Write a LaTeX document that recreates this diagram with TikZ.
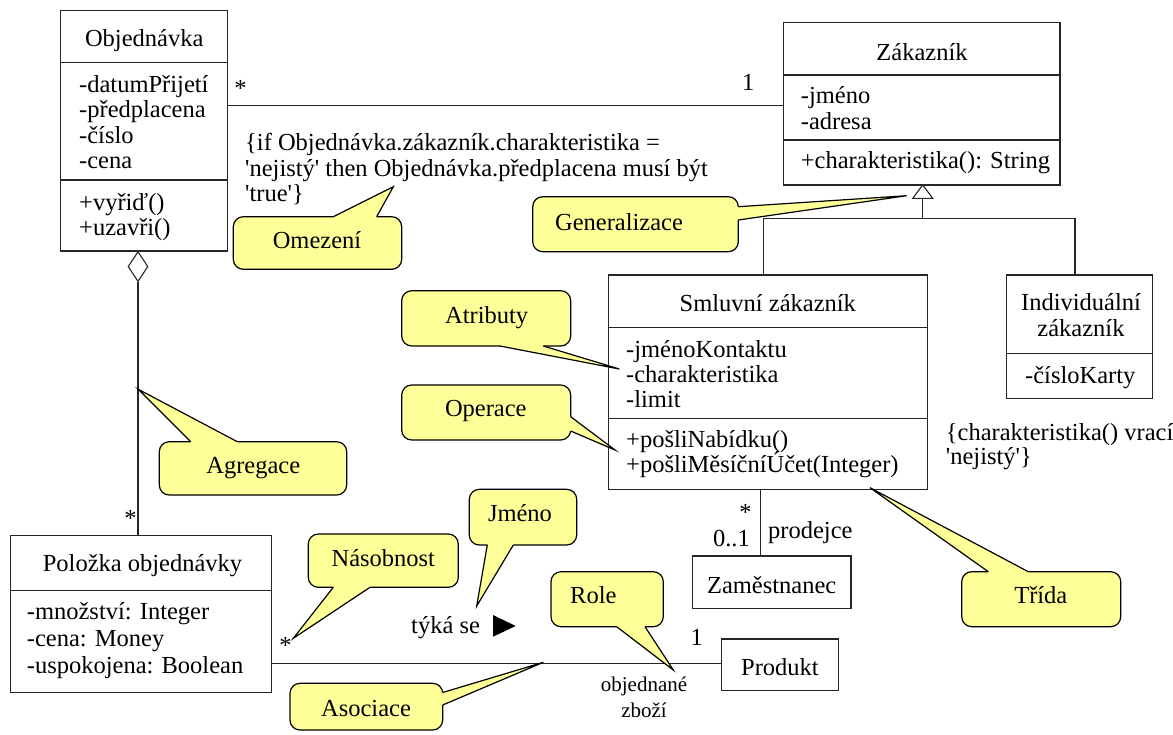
\documentclass[tikz,border=0pt]{standalone}
\usepackage{fontspec}
\setmainfont{Liberation Serif}
\usetikzlibrary{calc,shapes.geometric}
\definecolor{cfill}{HTML}{FFFF99}
\newcommand\sq{\textquotesingle}
\tikzset{
 every node/.style={font=\fontsize{24.5}{25.5}\selectfont, inner sep=0pt},
 cls/.style={draw=black!85, line width=1.1pt, fill=white, inner sep=0pt},
 ln/.style={draw=black!85, line width=1.1pt},
 txt/.style={anchor=base west},
 ctxt/.style={anchor=base},
 star/.style={anchor=base},
 small/.style={font=\fontsize{21}{22}\selectfont, anchor=base},
 cbox/.style={draw=black, line width=1.2pt, fill=cfill, rounded corners=10pt},
 cline/.style={draw=black, line width=1.2pt},
}
\newcommand\mkcallout[6]{%
 \path[cbox] #1 rectangle #2;
 \fill[cfill] #3 -- #4 -- #5 -- ($#5+#6$) -- ($#3+#6$) -- cycle;
 \draw[cline] #3 -- #4 -- #5;
}
\begin{document}
\begin{tikzpicture}[x=1pt,y=-1pt]
\useasboundingbox (0,0) rectangle (1173,734);
\fill[white] (0,0) rectangle (1173,734);

% ---------- connectors first (behind boxes) ----------
\coordinate (a1) at (0,105.7);
\coordinate (pp) at (0,663.3);
\coordinate (sz) at (760.7,0);
\coordinate (gl) at (763.3,218.3);
\coordinate (gr) at (1075,218.3);
\coordinate (gtop) at (922.7,218.3);

% ---------- classes ----------
% Objednavka
\node[cls, minimum width=167pt, minimum height=240.3pt] (obj) at (144.2,130.85) {};
\draw[ln] (60.7,62.3) -- (227.7,62.3);
\draw[ln] (60.7,180) -- (227.7,180);
\node[ctxt] (objT) at (144.2,46.5) {Objednávka};
\node[txt] (objA1) at (79,92) {-datumPřijetí};
\node[txt] (objA2) at (79,117.5) {-předplacena};
\node[txt] (objA3) at (79,143) {-číslo};
\node[txt] (objA4) at (79,168.3) {-cena};
\node[txt] (objO1) at (79,210) {+vyřiď()};
\node[txt] (objO2) at (79,235.5) {+uzavři()};

% Zakaznik
\node[cls, minimum width=276.7pt, minimum height=162.3pt] (zak) at (921.65,103.85) {};
\draw[ln] (783.3,75) -- (1060,75);
\draw[ln] (783.3,140) -- (1060,140);
\node[ctxt] (zakT) at (922,60) {Zákazník};
\node[txt] (zakA1) at (800.7,103.5) {-jméno};
\node[txt] (zakA2) at (800.7,129.3) {-adresa};
\node[txt] (zakO1) at (800.7,168) {+charakteristika(): String};

% Smluvni zakaznik
\node[cls, minimum width=319pt, minimum height=214.3pt] (smluv) at (767.8,382.15) {};
\draw[ln] (608.3,327.7) -- (927.3,327.7);
\draw[ln] (608.3,418.3) -- (927.3,418.3);
\node[ctxt] (smluvT) at (767.8,311.7) {Smluvní zákazník};
\node[txt] (smA1) at (626,357) {-jménoKontaktu};
\node[txt] (smA2) at (626,382) {-charakteristika};
\node[txt] (smA3) at (626,407) {-limit};
\node[txt] (smO1) at (626,447.5) {+pošliNabídku()};
\node[txt] (smO2) at (626,472) {+pošliMěsíčníÚčet(Integer)};

% Individualni zakaznik
\node[cls, minimum width=145.6pt, minimum height=123.3pt] (indiv) at (1079.5,336.65) {};
\draw[ln] (1006.7,353.3) -- (1152.3,353.3);
\node[ctxt] (indT1) at (1081,310.7) {Individuální};
\node[ctxt] (indT2) at (1081,336.7) {zákazník};
\node[txt] (indA1) at (1025,383.3) {-čísloKarty};

% Polozka objednavky
\node[cls, minimum width=261pt, minimum height=156.6pt] (pol) at (141.2,614) {};
\draw[ln] (10.7,590.7) -- (271.7,590.7);
\node[ctxt] (polT) at (142.5,571.7) {Položka objednávky};
\node[txt] (polA1) at (26.7,619) {-množství: Integer};
\node[txt] (polA2) at (26.7,646.3) {-cena: Money};
\node[txt] (polA3) at (26.7,673.3) {-uspokojena: Boolean};

% Zamestnanec
\node[cls, minimum width=158.7pt, minimum height=52.3pt] (zam) at (771.65,582.15) {};
\node[ctxt] (zamT) at (771.65,593.3) {Zaměstnanec};

% Produkt
\node[cls, minimum width=116.6pt, minimum height=51.7pt] (prod) at (780,664.85) {};
\node[ctxt] (prodT) at (780,675) {Produkt};

% ---------- connectors ----------
% Objednavka -- Zakaznik
\draw[ln] (a1 -| obj.east) -- (a1 -| zak.west);
\node[star] (s1) at (240.5,96.5) {*};
\node[ctxt] (m1) at (748.3,90.7) {1};

% aggregation
\node[diamond, draw=black!85, line width=1.1pt, fill=white, minimum width=20pt,
      minimum height=30pt, aspect=0.67, inner sep=0pt, anchor=north] (agg) at (138,251) {};
\draw[ln] (agg.south) -- (agg.south |- pol.north);
\node[star] (s2) at (130.5,526.5) {*};

% generalization
\draw[ln, fill=white] (922.7,185) -- (932.7,198.3) -- (912.7,198.3) -- cycle;
\coordinate (gbase) at (922.7,198.3);
\draw[ln] (gbase) -- (gtop);
\draw[ln] (gl |- smluv.north) -- (gl) -- (gr) -- (gr |- indiv.north);

% Smluvni -- Zamestnanec
\draw[ln] (sz |- smluv.south) -- (sz |- zam.north);
\node[star] (s3) at (745.5,520) {*};
\node[anchor=base east] (m2) at (750,546) {0..1};
\node[txt] (prodejce) at (768,538.3) {prodejce};

% Polozka -- Produkt
\draw[ln] (pp -| pol.east) -- (pp -| prod.west);
\node[star] (s4) at (285.5,653) {*};
\node[ctxt] (m3) at (696.7,645) {1};
\node[txt] (tyka) at (411,633.3) {týká se};
\fill[black] (493,615) -- (515.7,626) -- (493,636.7) -- cycle;
\node[small] (role1) at (644,691.7) {objednané};
\node[small] (role2) at (644,717.3) {zboží};

% constraints
\node[txt] (c1a) at (245,150.5) {\{if Objednávka.zákazník.charakteristika =};
\node[txt] (c1b) at (245,176) {\sq nejistý\sq{} then Objednávka.předplacena musí být};
\node[txt] (c1c) at (245,201.5) {\sq true\sq\}};
\begin{scope}
\clip (0,0) rectangle (1173,734);
\node[txt] (c2a) at (945.7,440) {\{charakteristika() vrací};
\node[txt] (c2b) at (945.7,464) {\sq nejistý\sq\}};
\end{scope}

% ---------- callouts ----------
\mkcallout{(233.3,216.7)}{(401.7,269.3)}{(333.3,216.7)}{(393.3,186.7)}{(376.7,216.7)}{(0,2.5)}
\node[ctxt] (omez) at (317,248.3) {Omezení};

\mkcallout{(532.7,196.7)}{(738.3,251.7)}{(738.3,206.7)}{(906.7,195.7)}{(738.3,220)}{(-2.5,0)}
\node[ctxt] (gener) at (619,230) {Generalizace};

\mkcallout{(401.7,290.7)}{(570.7,346)}{(500,346)}{(619.3,369)}{(543.3,346)}{(0,-2.5)}
\node[ctxt] (atrib) at (486.7,323.3) {Atributy};

\mkcallout{(401.7,385)}{(570.7,440)}{(570.7,416.7)}{(615,450)}{(570.7,431)}{(-2.5,0)}
\node[ctxt] (oper) at (485.8,416.7) {Operace};

\mkcallout{(469.3,489.3)}{(576.7,545)}{(487.3,545)}{(476.7,606)}{(513.3,545)}{(0,-2.5)}
\node[ctxt] (jmeno) at (520,521.7) {Jméno};

\mkcallout{(551,571.7)}{(663.3,626.7)}{(616.7,626.7)}{(673.3,670)}{(645,626.7)}{(0,-2.5)}
\node[ctxt] (role) at (593.3,603.3) {Role};

\mkcallout{(308.3,534)}{(458.3,587.3)}{(333.3,587.3)}{(293.3,638.3)}{(370,587.3)}{(0,-2.5)}
\node[ctxt] (nasob) at (383.3,566) {Násobnost};

\mkcallout{(159.3,441.7)}{(346.7,495)}{(190.7,441.7)}{(138.3,389.3)}{(237.3,441.7)}{(0,2.5)}
\node[ctxt] (agreg) at (253.3,473.3) {Agregace};

\mkcallout{(290,683.3)}{(442.7,730)}{(442.7,692.5)}{(543.3,662.3)}{(442.7,705)}{(-2.5,0)}
\node[ctxt] (asoc) at (366,716) {Asociace};

\mkcallout{(961.7,571.7)}{(1120.7,626.7)}{(988.3,571.7)}{(870,487.7)}{(1028.3,571.7)}{(0,2.5)}
\node[ctxt] (trida) at (1040.8,603.3) {Třída};
\end{tikzpicture}
\end{document}
